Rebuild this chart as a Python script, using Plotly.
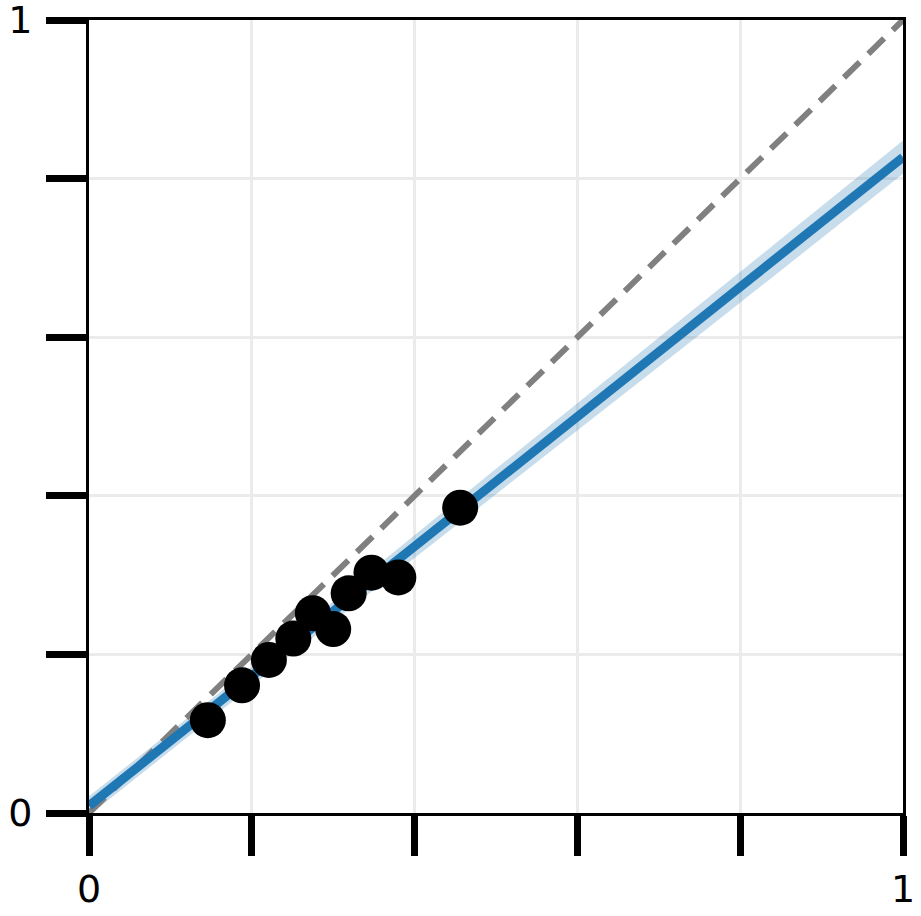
import plotly.graph_objects as go

# observed points
obs_x = [0.146, 0.188, 0.221, 0.251, 0.275, 0.300, 0.319, 0.347, 0.380, 0.456]
obs_y = [0.117, 0.161, 0.193, 0.220, 0.252, 0.232, 0.277, 0.303, 0.297, 0.385]

# fitted line with its confidence band
fit_x = [0.0, 0.25, 0.5, 0.75, 1.0]
fit_y = [0.009, 0.213, 0.418, 0.622, 0.827]
fit_lo = [-0.003, 0.201, 0.402, 0.603, 0.806]
fit_hi = [0.021, 0.225, 0.434, 0.641, 0.848]

# identity line
ref_x = [0, 1]
ref_y = [0, 1]

tick_vals = [0, 0.2, 0.4, 0.6, 0.8, 1]
tick_text = ["0", "", "", "", "", "1"]

fig = go.Figure()

fig.add_trace(go.Scatter(x=fit_x + fit_x[::-1], y=fit_hi + fit_lo[::-1],
                         mode="lines", fill="toself",
                         fillcolor="rgba(31,119,180,0.25)",
                         line=dict(width=0), hoverinfo="skip"))
fig.add_trace(go.Scatter(x=ref_x, y=ref_y, mode="lines",
                         line=dict(color="gray", width=6, dash="22px,12px")))
fig.add_trace(go.Scatter(x=fit_x, y=fit_y, mode="lines",
                         line=dict(color="#1f77b4", width=9)))
fig.add_trace(go.Scatter(x=obs_x, y=obs_y, mode="markers",
                         marker=dict(color="black", size=36, line=dict(width=0))))

axis = dict(range=[0, 1], tickvals=tick_vals, ticktext=tick_text,
            showline=True, linecolor="black", linewidth=3, mirror=True,
            showgrid=True, gridcolor="#ebebeb", gridwidth=3,
            ticks="outside", ticklen=40, tickwidth=7, tickcolor="black",
            zeroline=False, automargin=False, ticklabeloverflow="allow",
            tickfont=dict(family="DejaVu Sans", size=38, color="black"))

fig.update_xaxes(**axis, ticklabelstandoff=0)
fig.update_yaxes(**axis, ticklabelstandoff=6)
fig.update_layout(width=921, height=916, showlegend=False,
                  plot_bgcolor="white", paper_bgcolor="white",
                  margin=dict(l=89, r=18, t=20, b=103))

# drop the default page margin so the figure sits at the window corner
fig.write_html("out.html", config={"displayModeBar": False},
               post_script="document.body.style.margin = '0';")
